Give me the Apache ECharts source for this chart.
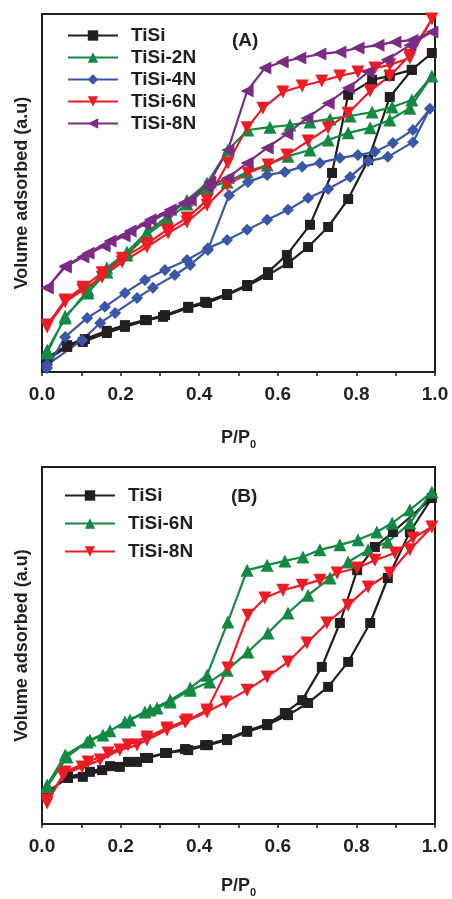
<!DOCTYPE html>
<html style="height: 100%">
<head>
  <meta charset="utf-8">
</head>
<body style="height: 100%; margin: 0; background: #fff">
  <div id="container" style="width: 452px; height: 899px"></div>
  <script src="https://cdn.jsdelivr.net/npm/echarts@6/dist/echarts.min.js"></script>
  <script>
    // panel (A): each series is adsorption branch then desorption branch (P/P0, a.u.)
    var tiSiA = [
      [0.013,3.4],[0.064,7.0],[0.104,8.4],[0.165,10.9],[0.211,12.6],[0.267,14.5],[0.308,15.4],[0.372,17.9],
      [0.420,19.3],[0.471,21.5],[0.522,24.0],[0.575,27.1],[0.626,30.4],[0.677,34.9],[0.728,40.5],[0.779,48.3],
      [0.830,59.2],[0.885,76.8],[0.941,84.4],[0.992,89.1],
      [0.941,84.4],[0.885,82.7],[0.840,81.6],[0.779,77.4],[0.738,55.6],[0.682,41.1],[0.623,32.7],[0.575,27.9],
      [0.522,24.3],[0.471,21.8],[0.415,19.6],[0.372,18.2],[0.313,15.9],[0.262,14.5],[0.211,13.1],[0.165,11.5],
      [0.109,9.2],[0.064,7.5],[0.013,3.9]
    ];
    var tiSi2NA = [
      [0.013,5.3],[0.059,15.6],[0.117,22.1],[0.165,27.9],[0.216,32.7],[0.267,38.3],[0.318,42.5],[0.369,46.9],
      [0.420,51.4],[0.471,53.1],[0.522,55.9],[0.573,57.8],[0.626,60.3],[0.682,62.0],[0.728,64.8],[0.779,66.8],
      [0.835,68.2],[0.885,70.4],[0.936,73.7],[0.992,82.7],
      [0.941,76.0],[0.891,74.0],[0.840,72.6],[0.784,71.5],[0.733,70.7],[0.682,69.8],[0.631,69.0],[0.580,68.4],
      [0.524,67.6],[0.473,62.0],[0.420,52.8],[0.369,48.0],[0.318,43.3],[0.267,39.1],[0.216,33.5],[0.165,29.1],
      [0.117,22.9],[0.059,15.1],[0.013,6.1]
    ];
    var tiSi4NA = [
      [0.013,1.1],[0.059,9.8],[0.115,15.1],[0.160,18.2],[0.211,22.1],[0.262,25.7],[0.313,28.5],[0.369,31.3],
      [0.422,34.6],[0.471,36.9],[0.522,39.7],[0.573,42.5],[0.626,45.3],[0.677,48.6],[0.728,51.1],[0.784,54.5],
      [0.830,58.9],[0.880,60.1],[0.944,64.2],[0.987,73.5],
      [0.944,67.6],[0.893,64.0],[0.847,61.5],[0.804,60.6],[0.758,59.8],[0.707,58.4],[0.662,57.3],[0.618,55.9],
      [0.573,55.0],[0.524,53.1],[0.476,49.4],[0.422,34.1],[0.377,29.9],[0.338,27.1],[0.282,23.5],[0.242,20.7],
      [0.186,16.5],[0.148,13.7],[0.102,8.9],[0.013,2.0]
    ];
    var tiSi6NA = [
      [0.013,12.6],[0.059,19.6],[0.104,22.9],[0.153,26.5],[0.204,30.7],[0.267,34.9],[0.321,38.8],[0.369,41.9],
      [0.420,46.6],[0.471,52.2],[0.524,55.6],[0.575,57.8],[0.623,60.6],[0.677,64.5],[0.728,68.2],[0.779,72.3],
      [0.835,78.5],[0.885,82.7],[0.936,88.5],[0.992,98.6],
      [0.936,87.7],[0.885,85.8],[0.847,84.9],[0.804,83.8],[0.758,82.7],[0.712,81.3],[0.662,79.9],[0.613,78.2],
      [0.562,73.7],[0.522,68.2],[0.473,58.4],[0.420,48.0],[0.369,43.0],[0.318,39.7],[0.267,35.8],[0.204,31.8],
      [0.153,27.7],[0.104,23.7],[0.059,20.1],[0.013,13.1]
    ];
    var tiSi8NA = [
      [0.013,23.5],[0.059,29.3],[0.104,32.1],[0.158,35.2],[0.209,38.0],[0.262,41.3],[0.313,44.1],[0.361,47.2],
      [0.420,51.7],[0.473,54.2],[0.522,58.4],[0.573,62.6],[0.623,66.5],[0.674,70.9],[0.728,75.1],[0.779,79.3],
      [0.830,83.8],[0.878,87.2],[0.936,91.3],[0.992,95.0],
      [0.941,92.7],[0.898,92.2],[0.855,91.3],[0.804,90.5],[0.758,89.4],[0.707,88.8],[0.656,87.7],[0.611,86.6],
      [0.567,84.9],[0.522,78.5],[0.473,62.0],[0.427,53.1],[0.377,48.0],[0.326,45.3],[0.275,42.5],[0.224,39.4],
      [0.173,36.6],[0.117,33.2],[0.059,29.6],[0.013,23.5]
    ];

    // panel (B)
    var tiSiB = [
      [0.013,9.0],[0.066,12.9],[0.104,13.2],[0.153,15.1],[0.198,16.0],[0.242,17.4],[0.270,18.5],[0.318,19.9],
      [0.372,20.7],[0.422,22.1],[0.471,23.5],[0.522,25.8],[0.573,27.7],[0.626,30.5],[0.677,33.9],[0.728,38.4],
      [0.779,45.4],[0.835,56.3],[0.880,68.9],[0.936,81.8],[0.992,91.3],
      [0.893,81.8],[0.847,77.6],[0.802,71.1],[0.758,56.3],[0.712,44.0],[0.662,34.7],[0.618,31.1],[0.573,28.0],
      [0.522,26.1],[0.471,23.8],[0.415,22.1],[0.364,21.0],[0.313,19.9],[0.262,18.5],[0.219,17.4],[0.173,16.2],
      [0.122,14.6],[0.066,13.2],[0.013,8.7]
    ];
    var tiSi6NB = [
      [0.013,10.4],[0.064,18.8],[0.115,23.0],[0.155,24.9],[0.211,28.6],[0.262,31.4],[0.293,32.5],[0.326,34.2],
      [0.377,37.5],[0.427,39.8],[0.471,43.1],[0.524,48.2],[0.575,53.5],[0.626,59.1],[0.677,64.1],[0.733,68.9],
      [0.779,73.4],[0.830,76.8],[0.880,79.0],[0.936,84.3],[0.992,93.0],
      [0.936,88.0],[0.891,84.3],[0.852,81.8],[0.804,79.6],[0.758,78.2],[0.707,76.8],[0.664,74.8],[0.618,73.7],
      [0.573,72.5],[0.522,71.1],[0.473,56.6],[0.420,41.7],[0.377,38.1],[0.326,34.7],[0.275,31.9],[0.224,29.1],
      [0.173,26.1],[0.122,23.5],[0.059,19.3],[0.013,10.9]
    ];
    var tiSi8NB = [
      [0.013,5.9],[0.053,13.7],[0.102,16.0],[0.148,17.9],[0.198,20.7],[0.242,22.1],[0.267,23.5],[0.318,26.3],
      [0.364,28.6],[0.420,31.4],[0.468,34.2],[0.522,37.5],[0.573,41.2],[0.626,45.4],[0.674,50.7],[0.725,56.3],
      [0.779,61.3],[0.830,66.4],[0.885,70.3],[0.936,76.8],[0.992,83.2],
      [0.944,80.1],[0.898,75.9],[0.847,73.9],[0.802,71.7],[0.751,70.3],[0.707,68.3],[0.662,66.9],[0.613,65.5],
      [0.567,63.3],[0.524,58.5],[0.473,43.7],[0.420,31.9],[0.369,29.1],[0.318,26.9],[0.267,24.4],[0.219,22.1],
      [0.168,19.9],[0.117,17.4],[0.059,14.6],[0.013,6.7]
    ];

    var dom = document.getElementById('container');
    var myChart = echarts.init(dom, null, { renderer: 'canvas' });

    var ink = '#231f20';
    var font = 'Liberation Sans, Arial, sans-serif';
    var colBlack = '#231f20', colGreen = '#138a43', colBlue = '#3a57a7',
        colRed = '#ed1c24', colPurple = '#7b2b84';

    function xAx(idx, gap) {
      return {
        type: 'value', gridIndex: idx, min: 0, max: 1, interval: 0.2,
        name: 'P/P{s|0}', nameLocation: 'middle', nameGap: gap,
        nameTextStyle: {
          color: ink, fontFamily: font, fontWeight: 'bold', fontSize: 18,
          rich: { s: { color: ink, fontFamily: font, fontWeight: 'bold', fontSize: 11, padding: [12, 0, 0, 0] } }
        },
        axisLine: { lineStyle: { color: ink, width: 2 } },
        axisTick: { inside: false, length: 4, lineStyle: { color: ink, width: 1.5 } },
        minorTick: { show: true, splitNumber: 2, length: 4, lineStyle: { color: ink, width: 1.5 } },
        axisLabel: {
          color: ink, fontFamily: font, fontWeight: 'bold', fontSize: 19, margin: 13,
          formatter: function (v) { return v.toFixed(1); }
        },
        splitLine: { show: false }
      };
    }
    function yAx(idx) {
      return {
        type: 'value', gridIndex: idx, min: 0, max: 100,
        name: 'Volume adsorbed (a.u)', nameLocation: 'middle', nameGap: 11,
        nameTextStyle: { color: ink, fontFamily: font, fontWeight: 'bold', fontSize: 18 },
        axisLine: { lineStyle: { color: ink, width: 2 } },
        axisTick: { show: false }, axisLabel: { show: false }, splitLine: { show: false }
      };
    }
    function line(name, data, idx, color, symbol, rot) {
      return {
        name: name, type: 'line', xAxisIndex: idx, yAxisIndex: idx, data: data,
        symbol: symbol, symbolSize: symbol === 'rect' ? 10 : (symbol === 'diamond' ? 12 : 13),
        symbolRotate: rot || 0,
        showAllSymbol: true,
        lineStyle: { color: color, width: 2.2 }, itemStyle: { color: color },
        animation: false
      };
    }
    var legendText = { color: ink, fontFamily: font, fontWeight: 'bold', fontSize: 19, padding: [0, 0, 0, 8] };

    var option = {
      backgroundColor: '#fff',
      grid: [
        { left: 42, top: 14, width: 393, height: 358, show: true, borderColor: ink, borderWidth: 2 },
        { left: 42, top: 467, width: 393, height: 357, show: true, borderColor: ink, borderWidth: 2 }
      ],
      xAxis: [xAx(0, 55), xAx(1, 51)],
      yAxis: [yAx(0), yAx(1)],
      legend: [
        {
          orient: 'vertical', left: 62, top: 21, itemWidth: 50, itemHeight: 13, itemGap: 3,
          textStyle: legendText,
          data: ['TiSi', 'TiSi-2N', 'TiSi-4N', 'TiSi-6N', 'TiSi-8N'].map(function (n) { return { name: n }; })
        },
        {
          orient: 'vertical', left: 59, top: 481, itemWidth: 50, itemHeight: 13, itemGap: 9,
          textStyle: legendText,
          data: ['TiSi ', 'TiSi-6N ', 'TiSi-8N '].map(function (n) { return { name: n }; }),
          formatter: function (n) { return n.trim(); }
        }
      ],
      graphic: [
        { type: 'text', left: 232, top: 31, style: { text: '(A)', fill: ink, font: 'bold 19px ' + font } },
        { type: 'text', left: 231, top: 487, style: { text: '(B)', fill: ink, font: 'bold 19px ' + font } }
      ],
      series: [
        line('TiSi', tiSiA, 0, colBlack, 'rect'),
        line('TiSi-2N', tiSi2NA, 0, colGreen, 'triangle'),
        line('TiSi-4N', tiSi4NA, 0, colBlue, 'diamond'),
        line('TiSi-6N', tiSi6NA, 0, colRed, 'triangle', 180),
        line('TiSi-8N', tiSi8NA, 0, colPurple, 'triangle', 90),
        line('TiSi ', tiSiB, 1, colBlack, 'rect'),
        line('TiSi-6N ', tiSi6NB, 1, colGreen, 'triangle'),
        line('TiSi-8N ', tiSi8NB, 1, colRed, 'triangle', 180)
      ]
    };

    myChart.setOption(option);
    window.addEventListener('resize', myChart.resize);
  </script>
</body>
</html>
